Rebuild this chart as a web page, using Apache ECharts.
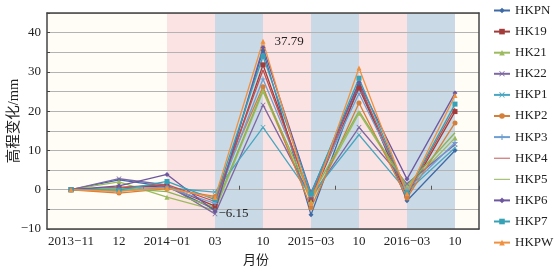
<!DOCTYPE html>
<html>
<head>
<meta charset="utf-8">
<script src="https://cdn.jsdelivr.net/npm/echarts@6/dist/echarts.min.js"></script>
<style>
  html, body { margin: 0; padding: 0; background: #fff; }
  #chart { width: 560px; height: 272px; }
</style>
</head>
<body>
<div id="chart"></div>
<script>
// 观测时间（类目）与刻度文字
const months = ['2013-11', '2013-12', '2014-01', '2014-03', '2014-10', '2015-03', '2015-10', '2016-03', '2016-10']
const tickLabels = ['2013−11', '12', '2014−01', '03', '10', '2015−03', '10', '2016−03', '10']

// 各测点高程变化 /mm
const HKPN = [0, 2.5, 0.8, -5.0, 35.5, -6.4, 26.8, -2.8, 10.0]
const HK19 = [0, 0.5, 1.0, -4.2, 31.8, -2.5, 25.9, -1.5, 19.9]
const HK21 = [0, 2.0, -1.9, -5.2, 25.0, -3.0, 19.5, 0.5, 13.2]
const HK22 = [0, 2.8, 1.2, -6.15, 21.6, -2.0, 15.9, 1.5, 11.5]
const HKP1 = [0, -0.3, 0.5, -0.6, 15.9, -1.5, 14.0, -0.5, 10.7]
const HKP2 = [0, -0.85, 0.3, -1.7, 26.2, -4.6, 22.1, -2.1, 17.0]
const HKP3 = [0, 0.3, 0.6, -3.5, 28.2, -1.2, 24.5, 0.0, 12.0]
const HKP4 = [0, 0.6, 1.3, -3.0, 30.5, -2.0, 27.0, -1.0, 20.8]
const HKP5 = [0, 0.4, -0.5, -4.5, 25.5, -1.8, 20.0, 1.0, 14.5]
const HKP6 = [0, 1.0, 3.9, -5.5, 36.2, -0.8, 27.3, 2.7, 24.6]
const HKP7 = [0, -0.1, 2.1, -2.5, 34.0, -1.0, 28.4, -0.8, 21.8]
const HKPW = [0, -0.4, 0.4, -2.0, 37.79, -3.5, 31.0, -1.0, 24.0]

// 背景分段（类目起止）
const pinkBands = [['2014-01', '2014-03'], ['2014-10', '2015-03'], ['2015-10', '2016-03']]
const blueBands = [['2014-03', '2014-10'], ['2015-03', '2015-10'], ['2016-03', '2016-10']]

const serif = 'Liberation Serif, Noto Sans CJK SC, serif'
const crossPath = 'path://M0,1L1,0L5,4L9,0L10,1L6,5L10,9L9,10L5,6L1,10L0,9L4,5Z'
const plusPath = 'path://M4,0H6V4H10V6H6V10H4V6H0V4H4Z'
const lineIcon = 'path://M0,4.4H20V5.6H0Z'

const seriesDefs = [
  { name: 'HKPN', data: HKPN, color: '#3f6aa6', symbol: 'diamond' },
  { name: 'HK19', data: HK19, color: '#a23b3a', symbol: 'rect' },
  { name: 'HK21', data: HK21, color: '#9dbb5e', symbol: 'triangle' },
  { name: 'HK22', data: HK22, color: '#7e68a3', symbol: crossPath },
  { name: 'HKP1', data: HKP1, color: '#4aa6c0', symbol: crossPath },
  { name: 'HKP2', data: HKP2, color: '#d47f3a', symbol: 'circle' },
  { name: 'HKP3', data: HKP3, color: '#6f9fd2', symbol: plusPath },
  { name: 'HKP4', data: HKP4, color: '#c2504f', symbol: 'none' },
  { name: 'HKP5', data: HKP5, color: '#8db253', symbol: 'none' },
  { name: 'HKP6', data: HKP6, color: '#6d58a0', symbol: 'diamond' },
  { name: 'HKP7', data: HKP7, color: '#37a2b6', symbol: 'rect' },
  { name: 'HKPW', data: HKPW, color: '#f0913f', symbol: 'triangle' },
]

let myChart = echarts.init(document.getElementById('chart'))

let series = seriesDefs.map((s) => {
  return {
    name: s.name,
    type: 'line',
    data: s.data.map((v) => {
      if (v === 37.79 || v === -6.15) {
        return {
          value: v,
          label: {
            show: true,
            position: 'right',
            distance: v > 0 ? 9 : 1,
            formatter: v > 0 ? '37.79' : '−6.15',
            fontFamily: serif,
            fontSize: 13,
            color: '#222',
          },
        }
      }
      return v
    }),
    color: s.color,
    symbol: s.symbol,
    symbolSize: 5,
    showSymbol: s.symbol !== 'none',
    lineStyle: { width: 1.3, color: s.color },
    itemStyle: { color: s.color },
    animation: false,
    z: 2,
  }
})

series[0].markArea = {
  silent: true,
  z: 1,
  data: pinkBands
    .map((b) => [{ xAxis: b[0], itemStyle: { color: '#fce3e3' } }, { xAxis: b[1] }])
    .concat(blueBands.map((b) => [{ xAxis: b[0], itemStyle: { color: '#c9dae6' } }, { xAxis: b[1] }])),
}

let option = {
  animation: false,
  grid: {
    left: 47,
    right: 81,
    top: 13,
    bottom: 43,
    outerBoundsMode: 'none',
    containLabel: false,
    show: true,
    backgroundColor: '#fffdf6',
    borderWidth: 0,
  },
  legend: {
    orient: 'vertical',
    left: 493,
    top: 4,
    padding: 0,
    itemWidth: 16,
    itemHeight: 7,
    itemGap: 8.1,
    textStyle: { fontFamily: serif, fontSize: 13, color: '#222', lineHeight: 13 },
    data: seriesDefs.map((s) => (s.symbol === 'none' ? { name: s.name, icon: lineIcon } : s.name)),
  },
  xAxis: [
    {
      type: 'category',
      data: months,
      position: 'bottom',
      z: 1.5,
      name: '月份',
      nameLocation: 'middle',
      nameGap: 25,
      nameMoveOverlap: false,
      nameTextStyle: { fontFamily: serif, fontSize: 13, color: '#222', padding: [0, 14, 0, 0] },
      axisLine: { onZero: false, lineStyle: { color: '#444', width: 1.5 } },
      axisTick: { inside: true, length: 4, lineStyle: { color: '#444' } },
      axisLabel: {
        interval: 0,
        hideOverlap: false,
        fontFamily: serif,
        fontSize: 13,
        color: '#222',
        margin: 6,
        formatter: (v, i) => tickLabels[i],
      },
      splitLine: { show: false },
    },
    {
      type: 'category',
      data: months,
      position: 'bottom',
      z: 1.5,
      axisLine: { show: false, onZero: true },
      axisTick: { show: true, inside: true, length: 4, lineStyle: { color: '#555' } },
      axisLabel: { show: false },
      splitLine: { show: false },
    },
    {
      type: 'category',
      data: months,
      position: 'top',
      z: 1.5,
      axisLine: { show: true, onZero: false, lineStyle: { color: '#444', width: 1.5 } },
      axisTick: { show: false },
      axisLabel: { show: false },
      splitLine: { show: false },
    },
  ],
  yAxis: [
    {
      type: 'value',
      min: -10,
      max: 45,
      interval: 5,
      z: 1.5,
      name: '高程变化/mm',
      nameLocation: 'middle',
      nameGap: 26,
      nameMoveOverlap: false,
      nameTextStyle: { fontFamily: serif, fontSize: 14.5, color: '#222' },
      axisLine: { show: true, lineStyle: { color: '#444', width: 1.5 } },
      axisTick: { show: true, inside: true, length: 3, lineStyle: { color: '#444' } },
      axisLabel: {
        fontFamily: serif,
        fontSize: 13,
        color: '#222',
        margin: 6,
        formatter: (v) => (v % 10 === 0 ? (v < 0 ? '−' + Math.abs(v) : String(v)) : ''),
      },
      splitLine: { show: true, lineStyle: { color: '#b3b3b3', width: 1 } },
    },
    {
      type: 'value',
      min: -10,
      max: 45,
      interval: 5,
      position: 'right',
      z: 1.5,
      axisLine: { show: true, lineStyle: { color: '#444', width: 1.5 } },
      axisTick: { show: false },
      axisLabel: { show: false },
      splitLine: { show: false },
    },
  ],
  series: series,
}

myChart.setOption(option)
</script>
</body>
</html>
